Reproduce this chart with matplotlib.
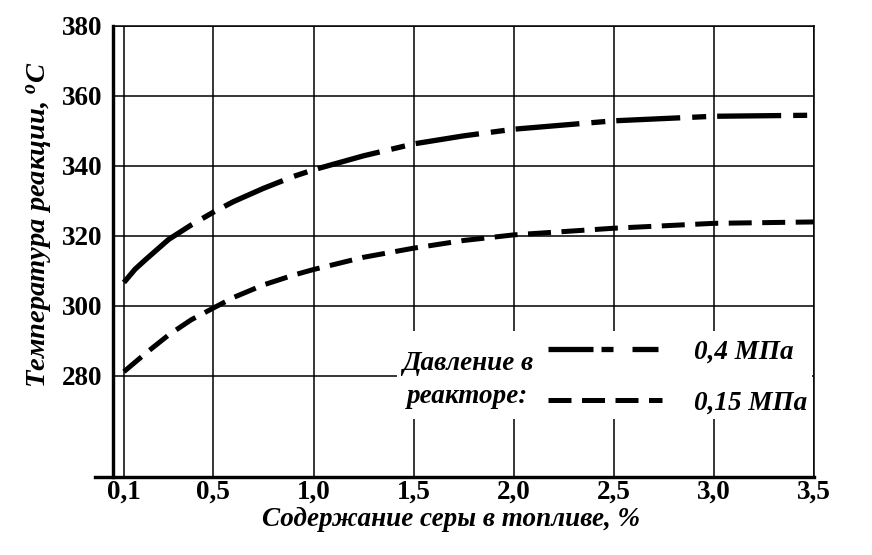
import numpy as np
import matplotlib
matplotlib.use('Agg')
import matplotlib.pyplot as plt
from matplotlib.patches import Rectangle
from matplotlib.lines import Line2D

# ---- data ----
sulfur = [0.1, 0.15, 0.2, 0.3, 0.4, 0.5, 0.6, 0.75, 0.9, 1.0, 1.25, 1.5, 1.75, 2.0, 2.5, 3.0, 3.5]
temp_04 = [306.7, 310.5, 313.4, 319.0, 323.1, 326.8, 329.8, 333.6, 337.0, 338.9, 342.9, 346.3, 348.6, 350.5, 352.9, 354.2, 354.5]
temp_015 = [281.2, 283.9, 286.6, 291.7, 296.0, 299.4, 302.4, 306.0, 308.8, 310.4, 313.9, 316.5, 318.7, 320.3, 322.2, 323.6, 324.0]

x_ticks = [0.1, 0.5, 1.0, 1.5, 2.0, 2.5, 3.0, 3.5]
x_ticklabels = ['0,1', '0,5', '1,0', '1,5', '2,0', '2,5', '3,0', '3,5']
y_ticks = [280, 300, 320, 340, 360, 380]
y_ticklabels = ['280', '300', '320', '340', '360', '380']

label_04 = '0,4 МПа'
label_015 = '0,15 МПа'
legend_title = 'Давление в\nреакторе:'
xlabel = 'Содержание серы в топливе, %'
ylabel = 'Температура реакции, $^{o}$C'

plt.rcParams['font.family'] = ['Liberation Serif', 'DejaVu Serif']
plt.rcParams['mathtext.fontset'] = 'custom'
plt.rcParams['mathtext.rm'] = 'Liberation Serif:bold:italic'
plt.rcParams['mathtext.it'] = 'Liberation Serif:bold:italic'
plt.rcParams['mathtext.bf'] = 'Liberation Serif:bold:italic'
plt.rcParams['lines.scale_dashes'] = False

FS = 19.5

# non-uniform x axis of the original (0.1..0.5 stretched)
K = 1.1175
def fwd(x):
    x = np.asarray(x, dtype=float)
    return np.where(x < 0.5, 0.5 - (0.5 - x) * K, x)
def inv(f):
    f = np.asarray(f, dtype=float)
    return np.where(f < 0.5, 0.5 - (0.5 - f) / K, f)

fig = plt.figure(figsize=(8.72, 5.55), dpi=100)
ax = fig.add_axes([113.3 / 872, (555 - 477) / 555, (814 - 113.3) / 872, (477 - 26) / 555])
ax.set_xscale('function', functions=(fwd, inv))
ax.set_xlim(float(inv(0.0)), 3.5)
ax.set_ylim(251.1, 380)

px = 0.72  # points per pixel
LW1 = 5.3 * px
LW2 = 5.0 * px
l1, = ax.plot(sulfur, temp_04, color='black', lw=LW1, solid_capstyle='butt',
              dash_capstyle='butt', solid_joinstyle='round', label=label_04, zorder=3)
dash_04 = [90] + [12, 14, 11, 64] * 9 + [11]
l1.set_dashes([d * px for d in dash_04])
l2, = ax.plot(sulfur, temp_015, color='black', lw=LW2, dash_capstyle='butt',
              solid_joinstyle='round', label=label_015, zorder=3)
l2.set_dashes((23 * px, 10.5 * px))

# legend sample of the 0.4 MPa line as drawn in the original key
key_04 = Line2D([], [], color='black', lw=LW1, dash_capstyle='butt',
                dashes=[d * px for d in (45, 8, 12, 19, 26, 10)])

ax.set_xticks(x_ticks)
ax.set_xticklabels(x_ticklabels)
ax.set_yticks(y_ticks)
ax.set_yticklabels(y_ticklabels)
ax.minorticks_off()
ax.tick_params(axis='both', length=0, labelsize=FS)
ax.tick_params(axis='y', pad=8)
ax.tick_params(axis='x', pad=2)
for t in ax.get_xticklabels() + ax.get_yticklabels():
    t.set_fontweight('bold')

ax.grid(True, color='black', lw=1.1)

for s in ['top', 'right']:
    ax.spines[s].set_linewidth(1.1)
for s in ['left', 'bottom']:
    ax.spines[s].set_linewidth(3.4 * px)
ax.spines['bottom'].set_bounds(float(inv((95 - 113.3) / 200.2)), 3.5)

# white area behind the legend (hides the grid there)
ax.add_patch(Rectangle(((397 - 113.3) / 700.7, (477 - 419) / 451),
                       (812 - 397) / 700.7, (419 - 331) / 451,
                       transform=ax.transAxes, facecolor='white', edgecolor='none', zorder=1.8))

ax.text((468 - 113.3) / 700.7, (477 - 380) / 451, legend_title, transform=ax.transAxes,
        ha='center', va='center', fontsize=FS, fontweight='bold', fontstyle='italic',
        linespacing=1.4, zorder=5)

leg = ax.legend(handles=[key_04, l2], labels=[label_04, label_015], loc='center left',
                bbox_to_anchor=((548 - 113.3) / 700.7, (477 - 377.5) / 451),
                frameon=False, borderpad=0, borderaxespad=0, handlelength=4.2,
                handletextpad=1.2, labelspacing=0.97,
                prop={'family': 'Liberation Serif', 'weight': 'bold', 'style': 'italic', 'size': FS})

ax.set_xlabel(xlabel, fontsize=FS, fontweight='bold', fontstyle='italic')
ax.xaxis.set_label_coords((451 - 113.3) / 700.7, (477 - 507) / 451)
ax.set_ylabel(ylabel, fontsize=20.5, fontweight='bold', fontstyle='italic')
ax.yaxis.set_label_coords((55 - 113.3) / 700.7, (477 - 225) / 451)

fig.savefig('out.png', dpi=100)
